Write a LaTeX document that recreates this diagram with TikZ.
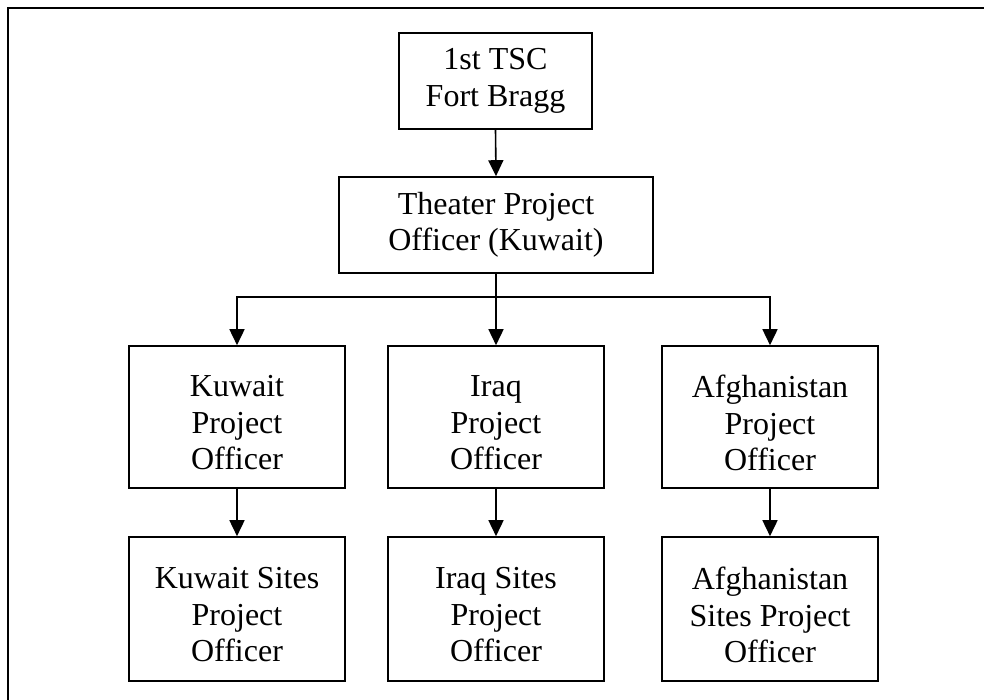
\documentclass[tikz,border=0pt]{standalone}
\usepackage{fontspec}
\setmainfont{Liberation Serif}
\usetikzlibrary{arrows.meta}
\begin{document}
\begin{tikzpicture}[x=1pt,y=-1pt,
  box/.style={draw=black,line width=1.6pt,rectangle,inner sep=0pt,minimum width=216pt,minimum height=142pt},
  txt/.style={align=center,inner sep=0pt,font=\fontsize{32}{36.5}\selectfont},
  arr/.style={line width=1.6pt,-{Triangle[length=16pt,width=15pt]}},
  frame/.style={line width=2.2pt}]
\useasboundingbox (0,0) rectangle (984,700);
% outer frame (only top and left visible)
\coordinate (fbl) at (8,700);
\coordinate (ftl) at (8,8);
\coordinate (ftr) at (984,8);
\draw[frame] (fbl) -- (ftl) -- (ftr);
% boxes
\node[box,minimum width=193pt,minimum height=96pt] (tsc) at (495.5,81) {};
\node[txt] (tsct) at (tsc.center) {1st TSC\\Fort Bragg};
\node[box,minimum width=314pt,minimum height=96pt] (thr) at (496,225) {};
\node[txt] (thrt) at (thr.center) {Theater Project\\Officer (Kuwait)};
\node[box] (kpo) at (237,417) {};
\node[box] (ipo) at (496,417) {};
\node[box] (apo) at (770,417) {};
\node[txt] (kpot) at ([yshift=-6pt]kpo.center) {Kuwait\\Project\\Officer};
\node[txt] (ipot) at ([yshift=-6pt]ipo.center) {Iraq\\Project\\Officer};
\node[txt] (apot) at ([yshift=-6pt]apo.center) {Afghanistan\\Project\\Officer};
\node[box,minimum height=144pt] (ksp) at (237,609) {};
\node[box,minimum height=144pt] (isp) at (496,609) {};
\node[box,minimum height=144pt] (asp) at (770,609) {};
\node[txt] (kspt) at ([yshift=-6pt]ksp.center) {Kuwait Sites\\Project\\Officer};
\node[txt] (ispt) at ([yshift=-6pt]isp.center) {Iraq Sites\\Project\\Officer};
\node[txt] (aspt) at ([yshift=-6pt]asp.center) {Afghanistan\\Sites Project\\Officer};
% connectors
\coordinate (bus) at (496,297);
\draw[arr] (tsc.south) -- (thr.north);
\draw[arr] (thr.south) -- (ipo.north);
\draw[arr] (bus) -| (kpo.north);
\draw[arr] (bus) -| (apo.north);
\draw[arr] (kpo.south) -- (ksp.north);
\draw[arr] (ipo.south) -- (isp.north);
\draw[arr] (apo.south) -- (asp.north);
\end{tikzpicture}
\end{document}
